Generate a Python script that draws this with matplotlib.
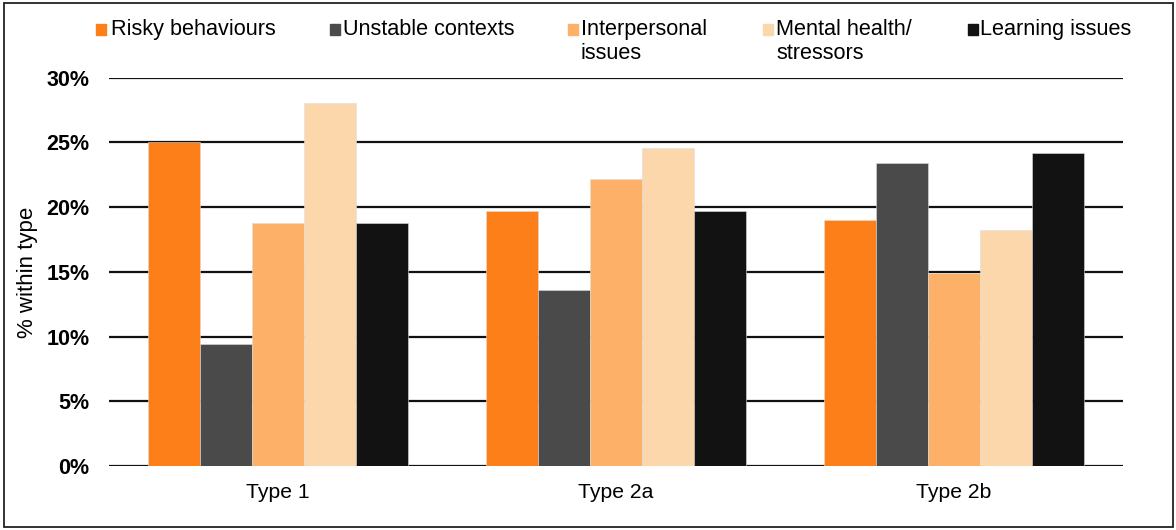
import matplotlib
matplotlib.use("Agg")
import matplotlib.pyplot as plt
import matplotlib.patches as mpatches
import numpy as np

plt.rcParams['font.family'] = ['Liberation Sans', 'DejaVu Sans']

categories = ["Type 1", "Type 2a", "Type 2b"]
series_names = ["Risky behaviours", "Unstable contexts", "Interpersonal\nissues",
                "Mental health/\nstressors", "Learning issues"]
risky = [25.0, 19.7, 19.0]
unstable = [9.4, 13.6, 23.4]
interpersonal = [18.8, 22.2, 14.9]
mental = [28.05, 24.6, 18.2]
learning = [18.8, 19.7, 24.2]
series_values = [risky, unstable, interpersonal, mental, learning]
colors = ["#FD7F1A", "#4A4A4A", "#FCB068", "#FDD7AC", "#121212"]
yticks = [0, 5, 10, 15, 20, 25, 30]
ytick_labels = ["0%", "5%", "10%", "15%", "20%", "25%", "30%"]

W, H = 1176, 530
fig = plt.figure(figsize=(W / 100, H / 100), dpi=100)
ax = fig.add_axes([109 / W, 1 - 466 / H, (1123 - 109) / W, (466 - 77.7) / H])

x = np.arange(len(categories))
bw = 0.154
n = len(series_values)
for i, (vals, col) in enumerate(zip(series_values, colors)):
    ax.bar(x + (i - (n - 1) / 2) * bw, vals, width=bw, color=col,
           edgecolor='#dddddd', linewidth=0.4, zorder=3)

ax.set_xlim(-0.5, len(categories) - 0.5)
ax.set_ylim(0, 30)
ax.set_yticks(yticks)
ax.set_yticklabels(ytick_labels, fontsize=15.5, fontweight='bold')
ax.set_xticks(x)
ax.set_xticklabels(categories, fontsize=15.2)
ax.tick_params(axis='both', length=0)
ax.tick_params(axis='y', pad=14)
ax.tick_params(axis='x', pad=12)
for s in ax.spines.values():
    s.set_visible(False)
ax.yaxis.grid(True, color='#111111', linewidth=1.6, zorder=0)
ax.set_axisbelow(True)

fig.text(28 / W, 1 - 272 / H, "% within type", rotation=90, fontsize=16,
         ha='center', va='center')

# legend
sq_x = [96, 330, 568, 763, 968]
tx_x = [111, 343, 581, 776, 980]
for name, col, sx, tx in zip(series_names, colors, sq_x, tx_x):
    fig.patches.append(mpatches.Rectangle((sx / W, 1 - 35 / H), 10 / W, 11 / H,
                                          transform=fig.transFigure, color=col))
    for j, line in enumerate(name.split("\n")):
        fig.text(tx / W, 1 - (35 + 24 * j) / H, line, fontsize=15.6,
                 ha='left', va='baseline')

# outer border
fig.patches.append(mpatches.Rectangle((4 / W, 3 / H), (1173 - 4) / W, (527 - 3) / H,
                                      transform=fig.transFigure, fill=False,
                                      edgecolor='#222222', linewidth=1.3))

fig.savefig("out.png", dpi=100)
